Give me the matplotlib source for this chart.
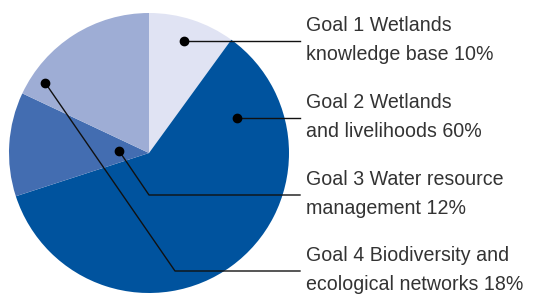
import numpy as np
import matplotlib.pyplot as plt

# data
goals = ['Goal 1 Wetlands\nknowledge base 10%',
         'Goal 2 Wetlands\nand livelihoods 60%',
         'Goal 3 Water resource\nmanagement 12%',
         'Goal 4 Biodiversity and\necological networks 18%']
shares = [10, 60, 12, 18]
colors = ['#e0e3f3', '#00539e', '#436db1', '#9eadd5']

# layout (pixel space, y up)
W, H = 536, 295
cx, cy, R = 149, 142, 140
# where the dot sits on each wedge: (angle deg, distance px)
dot_pos = [(72.6, 117), (21.7, 95), (176.0, 30), (146.0, 125)]
line_y = [254, 177, 100, 24]     # height of horizontal leader
elbow_x = [None, None, 149, 175]
line_end = 300
text_x = 306

fig = plt.figure(figsize=(W / 100, H / 100), dpi=100)
ax = fig.add_axes([0, 0, 1, 1])

ax.pie(shares, colors=colors, startangle=90, counterclock=False,
       center=(cx, cy), radius=R, wedgeprops=dict(linewidth=0))
ax.set_xlim(0, W)
ax.set_ylim(0, H)
ax.set_aspect('equal')
ax.axis('off')

for i, label in enumerate(goals):
    a, d = dot_pos[i]
    px = cx + d * np.cos(np.radians(a))
    py = cy + d * np.sin(np.radians(a))
    ly = line_y[i]
    if elbow_x[i] is None:
        xs, ys = [px, line_end], [ly, ly]
        py = ly
    else:
        xs, ys = [px, elbow_x[i], line_end], [py, ly, ly]
    ax.plot(xs, ys, color='#111111', lw=1.0, zorder=3)
    ax.plot(px, py, 'o', color='black', ms=6, zorder=4)
    ax.text(text_x, ly + 1, label, fontsize=14.1, family='Liberation Sans',
            color='#333333', va='center', ha='left', linespacing=1.72)

fig.savefig('out.png', dpi=100)
